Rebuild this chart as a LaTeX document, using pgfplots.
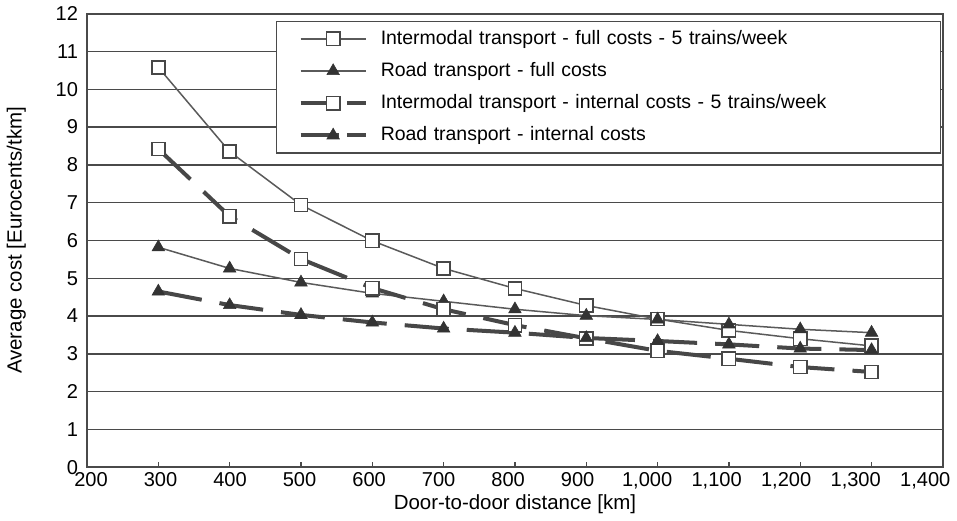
\documentclass[border=0pt]{standalone}
\usepackage{pgfplots}
\pgfplotsset{compat=1.18}
\usepackage{fontspec}
\setmainfont{Liberation Sans}
\definecolor{gline}{HTML}{5A5A5A}
\definecolor{dline}{HTML}{474747}
\definecolor{gridc}{HTML}{4A4A4A}
\pgfplotsset{
  dashleg/.style={legend image code/.code={\draw[mark repeat=2,mark phase=2,##1,dash pattern=on 19pt off 4pt] plot coordinates {(0cm,0cm) (0.57cm,0cm) (1.14cm,0cm)};}},
}
\begin{document}
\begin{tikzpicture}
\begin{axis}[
  scale only axis,
  width=426.5pt, height=226pt,
  xmin=200, xmax=1400, ymin=0, ymax=12,
  xtick={200,300,...,1400},
  ytick={0,1,...,12},
  /pgf/number format/assume math mode=true,
  /pgf/number format/1000 sep={,},
  tick label style={font=\fontsize{10}{11}\selectfont},
  label style={font=\fontsize{10.2}{12}\selectfont},
  xlabel={Door-to-door distance [km]},
  ylabel={Average cost [Eurocents/tkm]},
  xlabel style={yshift=4pt},
  ylabel style={yshift=8pt},
  ymajorgrids,
  major grid style={draw=gridc, line width=0.7pt},
  axis line style={draw=gridc, line width=0.8pt},
  tick align=inside,
  xtick pos=bottom,
  major tick length=2.5pt,
  xtick style={draw=gridc, line width=0.6pt},
  ytick style={draw=none},
  xticklabel style={yshift=1pt, xshift={2pt-0.9pt*\ticknum}},
  yticklabel style={xshift=-1pt},
  legend style={at={(0.2205,0.985)}, anchor=north west, draw=gridc, line width=0.8pt,
    font=\fontsize{9.7}{12}\selectfont, row sep=3.5pt, inner xsep=11pt, inner ysep=2.5pt,
    text width=266pt, /tikz/every odd column/.append style={column sep=4.5pt}},
  legend cell align=left,
  legend image code/.code={\draw[mark repeat=2,mark phase=2,#1] plot coordinates {(0cm,0cm) (0.57cm,0cm) (1.14cm,0cm)};},
  clip=false,
]
% Intermodal full
\addplot[color=gline, line width=0.75pt, mark=square*, mark size=3.3pt,
  mark options={solid, fill=white, draw=dline, line width=0.8pt}]
coordinates {(300,10.58) (400,8.35) (500,6.94) (600,5.99) (700,5.26) (800,4.73) (900,4.28) (1000,3.92) (1100,3.62) (1200,3.40) (1300,3.21)};
\addlegendentry{Intermodal transport - full costs - 5 trains/week}
% Road full
\addplot[color=gline, line width=0.75pt, mark=triangle*, mark size=3.6pt,
  mark options={solid, fill=black!80, draw=black!80, line width=0.3pt}]
coordinates {(300,5.82) (400,5.26) (500,4.89) (600,4.60) (700,4.39) (800,4.18) (900,4.01) (1000,3.91) (1100,3.78) (1200,3.65) (1300,3.56)};
\addlegendentry{Road transport - full costs}
% Intermodal internal
\addplot[color=dline, line width=2pt, dash pattern=on 22pt off 9pt, mark=square*, mark size=3.3pt,
  mark options={solid, fill=white, draw=dline, line width=0.8pt}, dashleg]
coordinates {(300,8.42) (400,6.64) (500,5.51) (600,4.74) (700,4.18) (800,3.76) (900,3.41) (1000,3.08) (1100,2.87) (1200,2.65) (1300,2.52)};
\addlegendentry{Intermodal transport - internal costs - 5 trains/week}
% Road internal
\addplot[color=dline, line width=2pt, dash pattern=on 22pt off 9pt, mark=triangle*, mark size=3.6pt,
  mark options={solid, fill=black!80, draw=black!80, line width=0.3pt}, dashleg]
coordinates {(300,4.65) (400,4.29) (500,4.03) (600,3.83) (700,3.67) (800,3.56) (900,3.42) (1000,3.34) (1100,3.25) (1200,3.14) (1300,3.10)};
\addlegendentry{Road transport - internal costs}
\end{axis}
\end{tikzpicture}
\end{document}
